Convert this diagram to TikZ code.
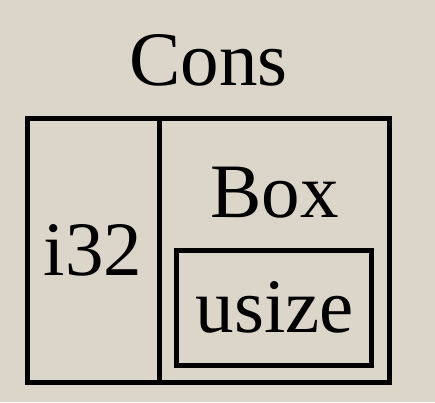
\documentclass[tikz,border=0pt]{standalone}
\usepackage{fontspec}
\setmainfont{Liberation Serif}
\definecolor{bgc}{RGB}{219,213,202}
\begin{document}
\begin{tikzpicture}[x=1pt,y=-1pt,
  cell/.style={draw=black,line width=5pt,rectangle,inner sep=0pt,outer sep=0pt},
  lbl/.style={anchor=base,inner sep=0pt,font=\fontsize{77}{77}\selectfont}]
\fill[bgc] (0,0) rectangle (435,402);
\useasboundingbox (0,0) rectangle (435,402);
\node[cell,minimum width=132pt,minimum height=264pt] (left) at (93.5,250.5) {};
\node[cell,minimum width=230pt,minimum height=264pt] (right) at (274.5,250.5) {};
\node[cell,minimum width=195pt,minimum height=115pt] (inner) at (274,308) {};
\node[lbl] (cons) at (208.5,85) {Cons};
\node[lbl] (i32) at (93,275) {i32};
\node[lbl] (box) at (274.5,217) {Box};
\node[lbl] (usize) at (275,332) {usize};
\end{tikzpicture}
\end{document}
